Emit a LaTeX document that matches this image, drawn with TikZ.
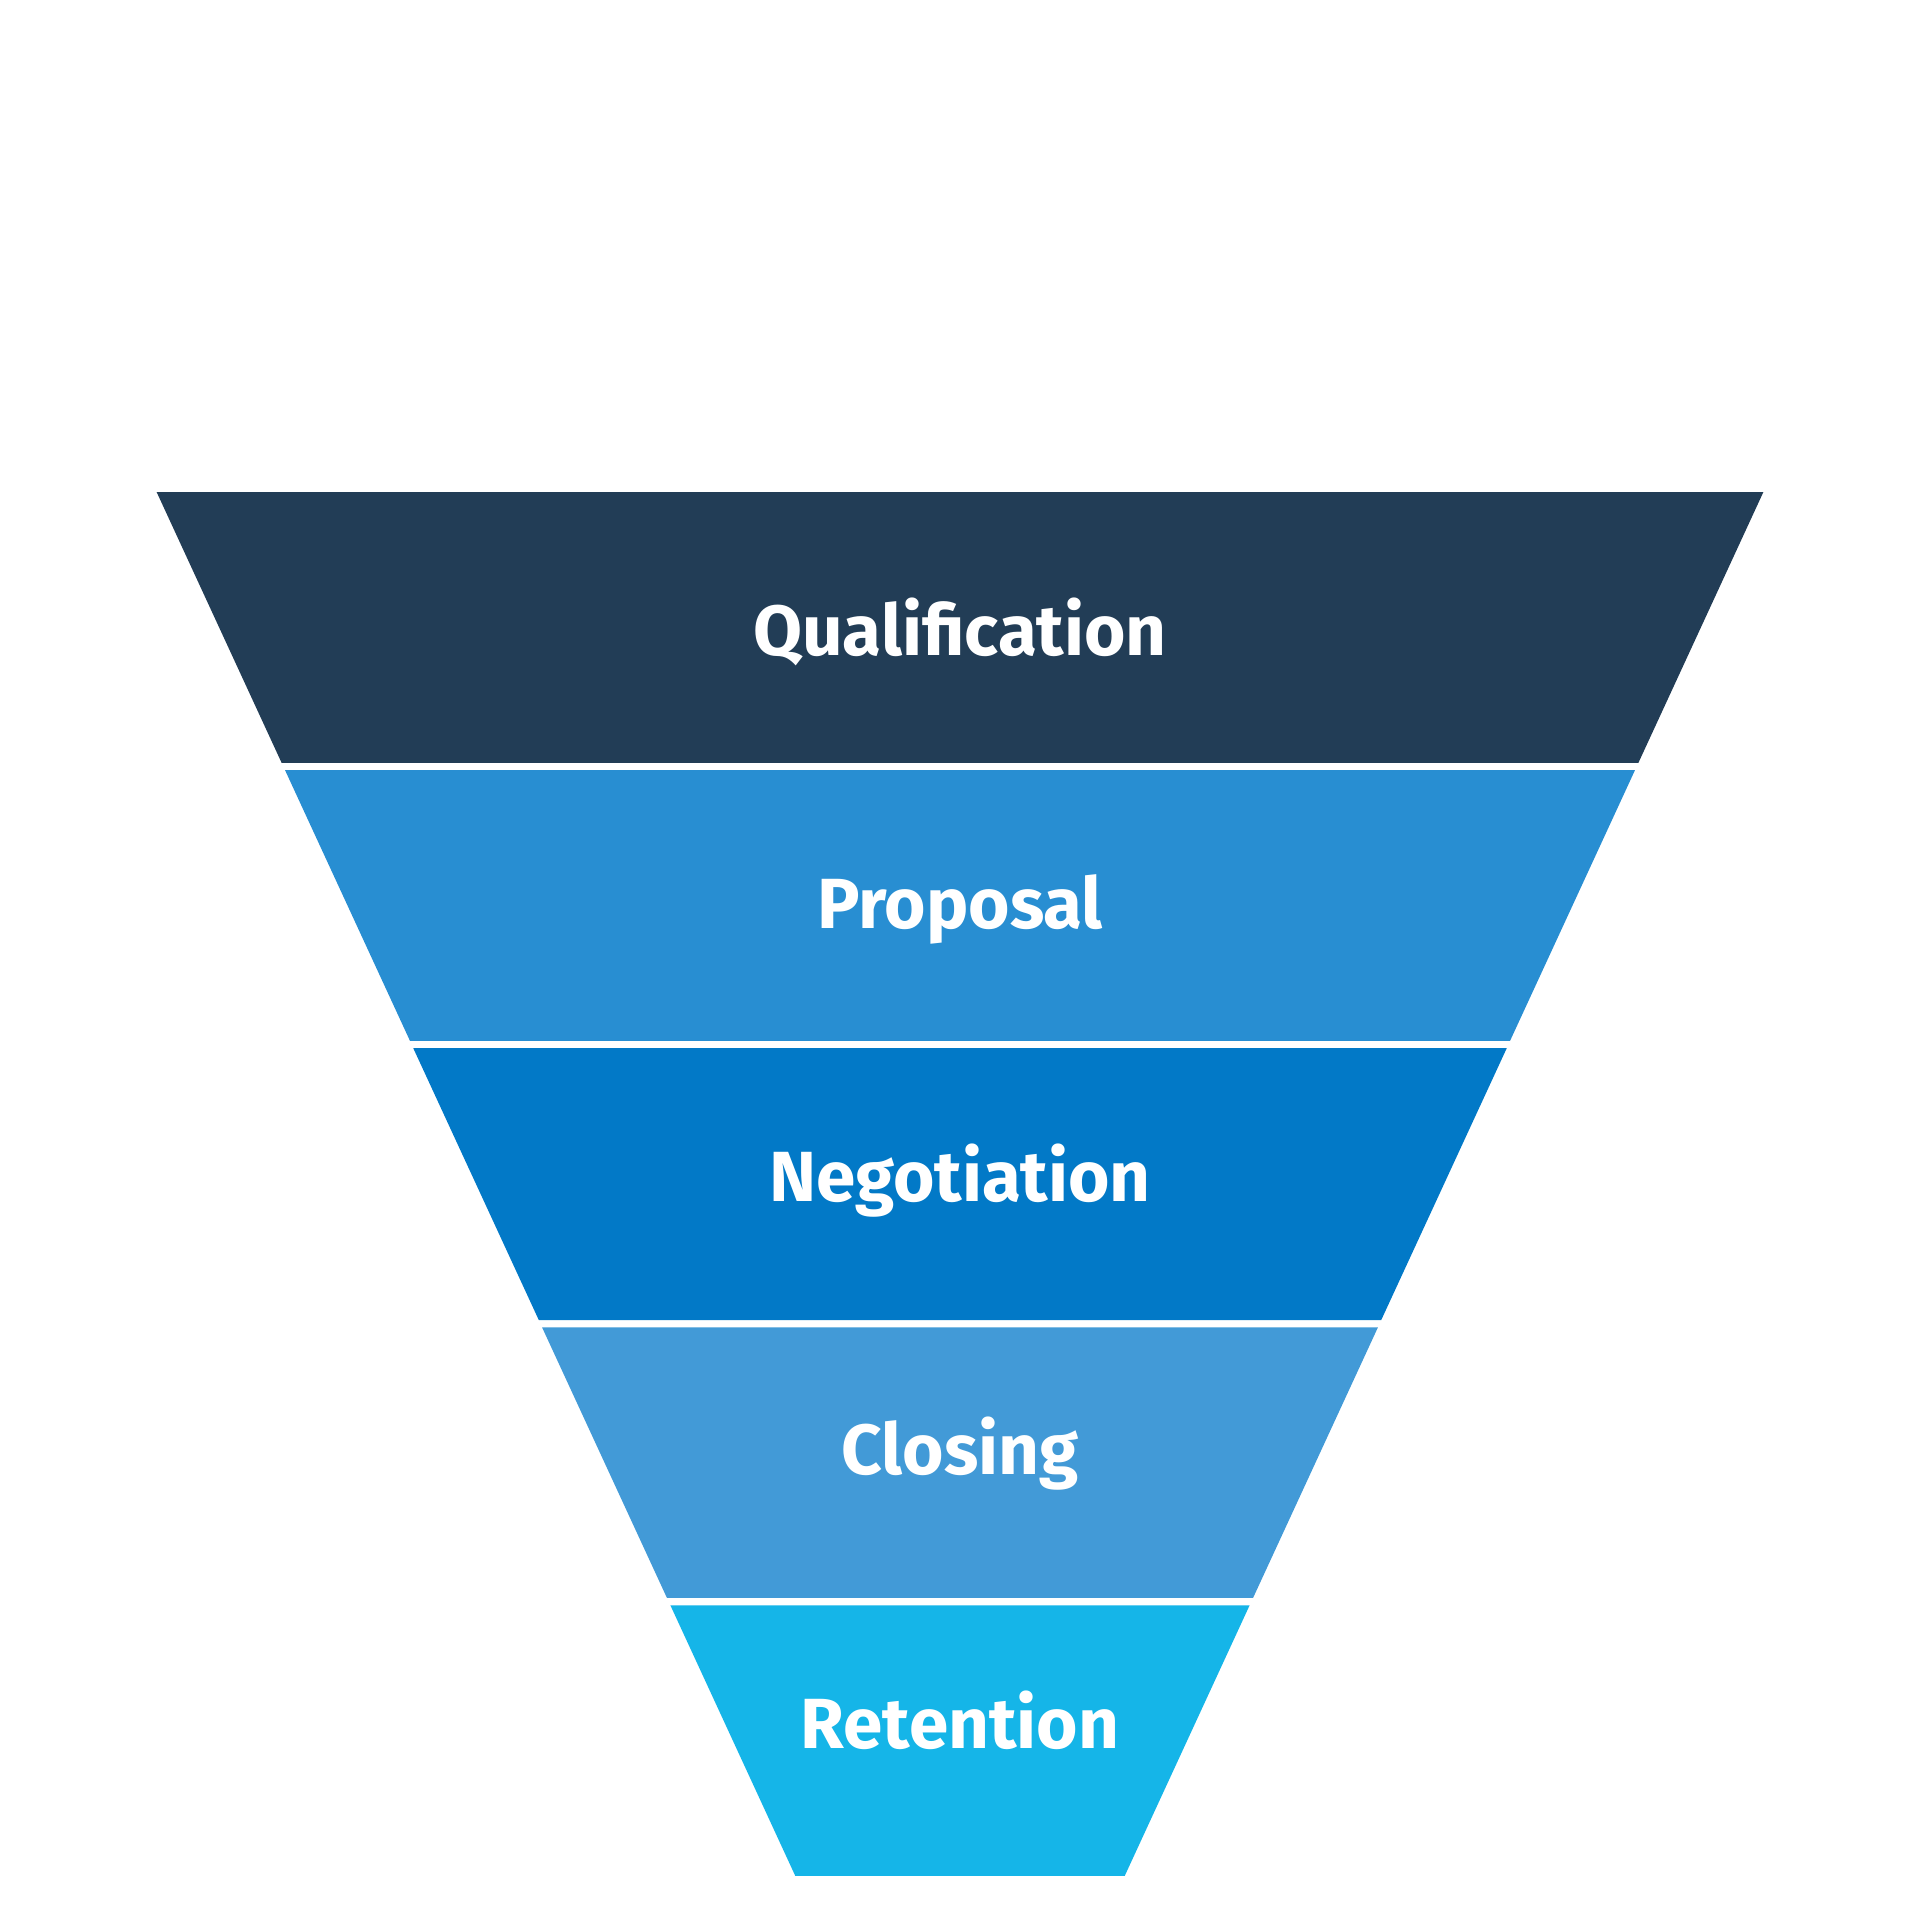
\documentclass[tikz,border=0pt]{standalone}
\usepackage{fontspec}
\setmainfont{Fira Sans}[BoldFont={Fira Sans Bold}]
\definecolor{cQual}{HTML}{223D56}
\definecolor{cProp}{HTML}{288ED2}
\definecolor{cNego}{HTML}{0279C7}
\definecolor{cClos}{HTML}{429AD7}
\definecolor{cRete}{HTML}{15B5E8}
\tikzset{
  band/.style={draw=none},
  lbl/.style={text=white, font=\bfseries\fontsize{58}{60}\selectfont, anchor=base, inner sep=0pt}
}
\begin{document}
\begin{tikzpicture}[x=1pt,y=-1pt]
\useasboundingbox[fill=white] (0,0) rectangle (1568,1568);
\fill[band,cQual] (128,402) -- (1440,402) -- (1338,623) -- (230,623) -- cycle;
\fill[band,cProp] (232.8,629) -- (1335.2,629) -- (1233.2,850) -- (334.8,850) -- cycle;
\fill[band,cNego] (337.5,856) -- (1230.5,856) -- (1128,1078) -- (440,1078) -- cycle;
\fill[band,cClos] (442.7,1084) -- (1125.3,1084) -- (1023.3,1305) -- (544.7,1305) -- cycle;
\fill[band,cRete] (547.5,1311) -- (1020.5,1311) -- (918.5,1532) -- (649.5,1532) -- cycle;
\node[lbl] (qual) at (784,535) {Qualification};
\node[lbl] (prop) at (784,758) {Proposal};
\node[lbl] (nego) at (784,981) {Negotiation};
\node[lbl] (clos) at (784,1204) {Closing};
\node[lbl] (rete) at (784,1428) {Retention};
\end{tikzpicture}
\end{document}
